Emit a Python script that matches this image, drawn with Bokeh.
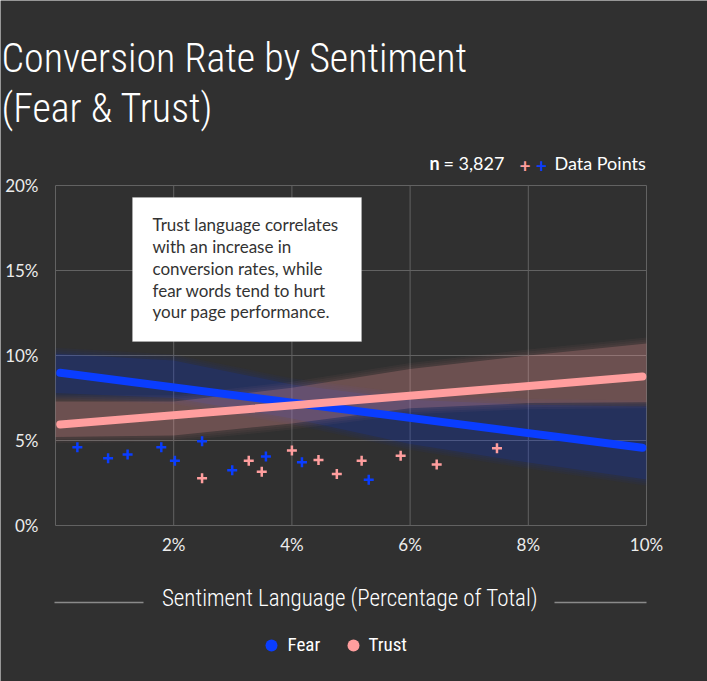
import numpy as np
from bokeh.plotting import figure
from bokeh.models import Label, BoxAnnotation, PrintfTickFormatter, Range1d
from bokeh.embed import file_html
from bokeh.resources import INLINE

# Sample observations: share of sentiment language (%) vs. conversion rate (%)
fear_x = [0.37, 0.89, 1.22, 1.79, 2.02, 2.48, 2.99, 3.56, 4.17, 5.30]
fear_y = [4.61, 3.96, 4.18, 4.61, 3.81, 4.96, 3.25, 4.06, 3.72, 2.69]
trust_x = [2.48, 3.27, 3.49, 4.00, 4.45, 4.76, 5.18, 5.84, 6.45, 7.47]
trust_y = [2.78, 3.81, 3.16, 4.41, 3.86, 3.03, 3.81, 4.10, 3.59, 4.55]

# Fitted trend lines
fit_x = [0.08, 9.93]
fear_fit = [8.98, 4.57]
trust_fit = [5.94, 8.76]

# Confidence bands around each fit
band_x = [0, 2, 4, 6, 8, 10]
fear_lo = [7.8, 7.5, 6.3, 4.8, 3.7, 2.7]
fear_hi = [10.1, 9.7, 8.3, 7.4, 7.1, 7.0]
trust_lo = [5.2, 5.3, 6.0, 6.9, 7.2, 7.25]
trust_hi = [7.3, 7.3, 8.1, 9.2, 10.0, 10.7]

x_ticks = [2, 4, 6, 8, 10]
y_ticks = [0, 5, 10, 15, 20]
sample_size = 3827
series_names = ["Fear", "Trust"]

BG = "#303030"
BLUE = "#0a3dff"
PINK = "#ff9e9e"
GRID = "#626262"
BODY_FONT = "Lato"
COND_LIGHT = "'Roboto Condensed Light'"
COND = "'Roboto Condensed'"

# page size and where the chart area sits on it (pixels)
W, H = 707, 681
LEFT, RIGHT, TOP, BOTTOM = 55, 646, 185, 525
X0, X1, Y0, Y1 = 0, 10, 0, 20
KX = (RIGHT - LEFT) / (X1 - X0)
KY = (BOTTOM - TOP) / (Y1 - Y0)

# The plotting frame spans the whole page; the data ranges are widened so that
# 0-10 % / 0-20 % land on the chart area, leaving room for the heading and footer.
p = figure(width=W, height=H,
           x_range=(X0 - LEFT / KX, X1 + (W - RIGHT) / KX),
           y_range=(Y0 - (H - BOTTOM) / KY, Y1 + TOP / KY),
           output_backend="svg", toolbar_location=None,
           min_border=0, min_border_left=0, min_border_right=0, min_border_top=0, min_border_bottom=0)
p.title.visible = False
p.background_fill_color = BG
p.border_fill_color = BG
p.outline_line_color = None
p.grid.visible = False
# page-pixel coordinates for the surrounding texts
p.extra_x_ranges = {"px": Range1d(0, W)}
p.extra_y_ranges = {"px": Range1d(H, 0)}

# axes pinned to the chart's origin
p.xaxis.fixed_location = Y0
p.yaxis.fixed_location = X0
p.xaxis.ticker = x_ticks
p.yaxis.ticker = y_ticks
for ax in (p.xaxis, p.yaxis):
    ax.formatter = PrintfTickFormatter(format="%d%%")
    ax.axis_line_color = None
    ax.major_tick_line_color = None
    ax.minor_tick_line_color = None
    ax.major_label_text_color = "#ececec"
    ax.major_label_text_font = BODY_FONT
    ax.major_label_text_font_size = "17px"
p.yaxis.major_label_standoff = 11
p.xaxis.major_label_standoff = 2

# grid lines and chart border
grid_x = [X0] + x_ticks
p.segment(x0=grid_x, y0=Y0, x1=grid_x, y1=Y1, line_color=GRID, line_width=1)
p.segment(x0=X0, y0=y_ticks, x1=X1, y1=y_ticks, line_color=GRID, line_width=1)


def soft_band(xs, lo, hi, color, core_alpha, halo_alpha, spreads=(0.12, 0.24, 0.36)):
    lo = np.asarray(lo, dtype=float)
    hi = np.asarray(hi, dtype=float)
    for s in spreads:
        p.varea(x=xs, y1=lo - s, y2=hi + s, fill_color=color, fill_alpha=halo_alpha)
    p.varea(x=xs, y1=lo, y2=hi, fill_color=color, fill_alpha=core_alpha)


soft_band(band_x, fear_lo, fear_hi, BLUE, 0.12, 0.04)
soft_band(band_x, trust_lo, trust_hi, PINK, 0.20, 0.045)

p.line(fit_x, fear_fit, line_color=BLUE, line_width=8, line_cap="round")
p.line(fit_x, trust_fit, line_color=PINK, line_width=8, line_cap="round")

p.scatter(fear_x, fear_y, marker="cross", size=10, line_width=2.5, line_color=BLUE)
p.scatter(trust_x, trust_y, marker="cross", size=10, line_width=2.5, line_color=PINK)


def label(x, y, text, font=BODY_FONT, size=18, color="#ffffff", style="normal",
          align="left", baseline="alphabetic"):
    # y is the intended baseline row; the SVG text box sits ~0.4em low, so lift it
    if baseline == "alphabetic":
        y -= 0.4 * size
    p.add_layout(Label(x=x, y=y, x_range_name="px", y_range_name="px", text=text, text_font=font,
                       text_font_size=f"{size}px", text_color=color, text_font_style=style,
                       text_align=align, text_baseline=baseline))


# heading
label(1, 74, "Conversion Rate by Sentiment", font=COND_LIGHT, size=40)
label(1, 124, "(Fear & Trust)", font=COND_LIGHT, size=40)
label(429, 170, "n", style="bold")
label(443, 170, f"= {sample_size:,}")
label(524.5, 165, "+", color=PINK, style="bold", size=19, align="center", baseline="middle")
label(541, 165, "+", color=BLUE, style="bold", size=19, align="center", baseline="middle")
label(554, 170, "Data Points")

# call-out box
p.add_layout(BoxAnnotation(left=132, right=361, top=197, bottom=341, x_range_name="px", y_range_name="px",
                           fill_color="#ffffff", fill_alpha=1, line_color="#c8c8c8", line_width=1))
note_lines = ["Trust language correlates", "with an increase in", "conversion rates, while",
              "fear words tend to hurt", "your page performance."]
for i, line in enumerate(note_lines):
    label(152, 231 + i * 21.8, line, size=17, color="#333333")

# axis title flanked by rules
label(349.5, 607.5, "Sentiment Language (Percentage of Total)", font=COND_LIGHT, size=23, align="center")
p.segment(x0=[54, 554], y0=602, x1=[143, 646], y1=602, x_range_name="px", y_range_name="px",
          line_color="#8a8a8a", line_width=1.6)

# series key
key_dot_x = [271, 353]
key_text_x = [287, 368]
p.scatter(x=key_dot_x, y=645, x_range_name="px", y_range_name="px", marker="circle", size=12,
          fill_color=[BLUE, PINK], line_color=None)
for tx, name in zip(key_text_x, series_names):
    label(tx, 652, name, font=COND, size=19)

open("out.html", "w").write(file_html(p, INLINE))
